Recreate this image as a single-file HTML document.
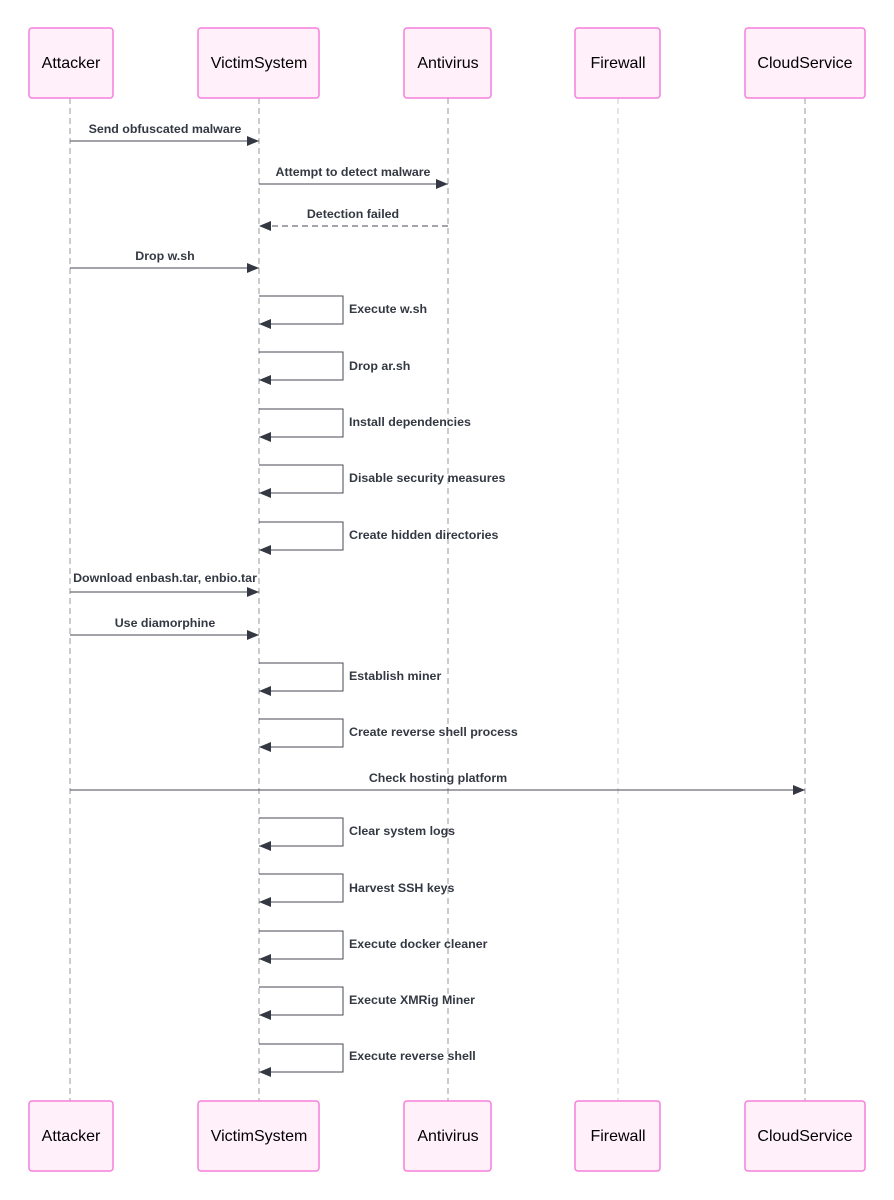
<!DOCTYPE html>
<html><head><meta charset="utf-8"><style>body{margin:0;background:#fff}svg{display:block}</style></head><body>
<svg width="894" height="1200" xmlns="http://www.w3.org/2000/svg" font-family="Liberation Sans, sans-serif">
<defs><marker id="a" markerWidth="12" markerHeight="10" refX="12" refY="5" orient="auto" markerUnits="userSpaceOnUse"><path d="M0,0 L12,5 L0,10z" fill="#333842"/></marker></defs>
<g stroke="#999" stroke-dasharray="6,4" stroke-width="1">
<line x1="70" y1="98" x2="70" y2="1101"/><line x1="259" y1="98" x2="259" y2="1101"/><line x1="448" y1="98" x2="448" y2="1101"/><line x1="618" y1="98" x2="618" y2="1101" stroke="#ccc"/><line x1="805" y1="98" x2="805" y2="1101"/>
</g>
<g fill="#fff0fa" stroke="#f57fdb" stroke-width="1.5">
<rect x="29" y="28" width="84" height="70" rx="3"/><rect x="198" y="28" width="121" height="70" rx="3"/><rect x="404" y="28" width="87" height="70" rx="3"/><rect x="575" y="28" width="85" height="70" rx="3"/><rect x="745" y="28" width="120" height="70" rx="3"/>
<rect x="29" y="1101" width="84" height="70" rx="3"/><rect x="198" y="1101" width="121" height="70" rx="3"/><rect x="404" y="1101" width="87" height="70" rx="3"/><rect x="575" y="1101" width="85" height="70" rx="3"/><rect x="745" y="1101" width="120" height="70" rx="3"/>
</g>
<g font-size="16" text-anchor="middle" fill="#000">
<text x="71" y="68">Attacker</text><text x="259" y="68">VictimSystem</text><text x="448" y="68">Antivirus</text><text x="618" y="68">Firewall</text><text x="805" y="68">CloudService</text>
<text x="71" y="1141">Attacker</text><text x="259" y="1141">VictimSystem</text><text x="448" y="1141">Antivirus</text><text x="618" y="1141">Firewall</text><text x="805" y="1141">CloudService</text>
</g>
<g stroke="#444a55" stroke-width="1" fill="none">
<line x1="70" y1="141" x2="259" y2="141" marker-end="url(#a)"/>
<line x1="259" y1="184" x2="448" y2="184" marker-end="url(#a)"/>
<line x1="448" y1="226" x2="259" y2="226" stroke-dasharray="6,4" marker-end="url(#a)"/>
<line x1="70" y1="268" x2="259" y2="268" marker-end="url(#a)"/>
<line x1="70" y1="592" x2="259" y2="592" marker-end="url(#a)"/>
<line x1="70" y1="635" x2="259" y2="635" marker-end="url(#a)"/>
<line x1="70" y1="790" x2="805" y2="790" marker-end="url(#a)"/>
<path d="M259,296H343V324H259" marker-end="url(#a)"/>
<path d="M259,352H343V380H259" marker-end="url(#a)"/>
<path d="M259,409H343V437H259" marker-end="url(#a)"/>
<path d="M259,465H343V493H259" marker-end="url(#a)"/>
<path d="M259,522H343V550H259" marker-end="url(#a)"/>
<path d="M259,663H343V691H259" marker-end="url(#a)"/>
<path d="M259,719H343V747H259" marker-end="url(#a)"/>
<path d="M259,818H343V846H259" marker-end="url(#a)"/>
<path d="M259,874H343V902H259" marker-end="url(#a)"/>
<path d="M259,931H343V959H259" marker-end="url(#a)"/>
<path d="M259,987H343V1015H259" marker-end="url(#a)"/>
<path d="M259,1044H343V1072H259" marker-end="url(#a)"/>
</g>
<g font-size="12.4" font-weight="bold" fill="#333842" text-anchor="middle">
<text x="165" y="133">Send obfuscated malware</text>
<text x="353" y="176">Attempt to detect malware</text>
<text x="353" y="218">Detection failed</text>
<text x="165" y="260">Drop w.sh</text>
<text x="165" y="582">Download enbash.tar, enbio.tar</text>
<text x="165" y="627">Use diamorphine</text>
<text x="438" y="782">Check hosting platform</text>
</g>
<g font-size="12.4" font-weight="bold" fill="#333842">
<text x="349" y="313">Execute w.sh</text>
<text x="349" y="370">Drop ar.sh</text>
<text x="349" y="426">Install dependencies</text>
<text x="349" y="482">Disable security measures</text>
<text x="349" y="539">Create hidden directories</text>
<text x="349" y="680">Establish miner</text>
<text x="349" y="736">Create reverse shell process</text>
<text x="349" y="835">Clear system logs</text>
<text x="349" y="892">Harvest SSH keys</text>
<text x="349" y="948">Execute docker cleaner</text>
<text x="349" y="1004">Execute XMRig Miner</text>
<text x="349" y="1060">Execute reverse shell</text>
</g>
</svg>
</body></html>
